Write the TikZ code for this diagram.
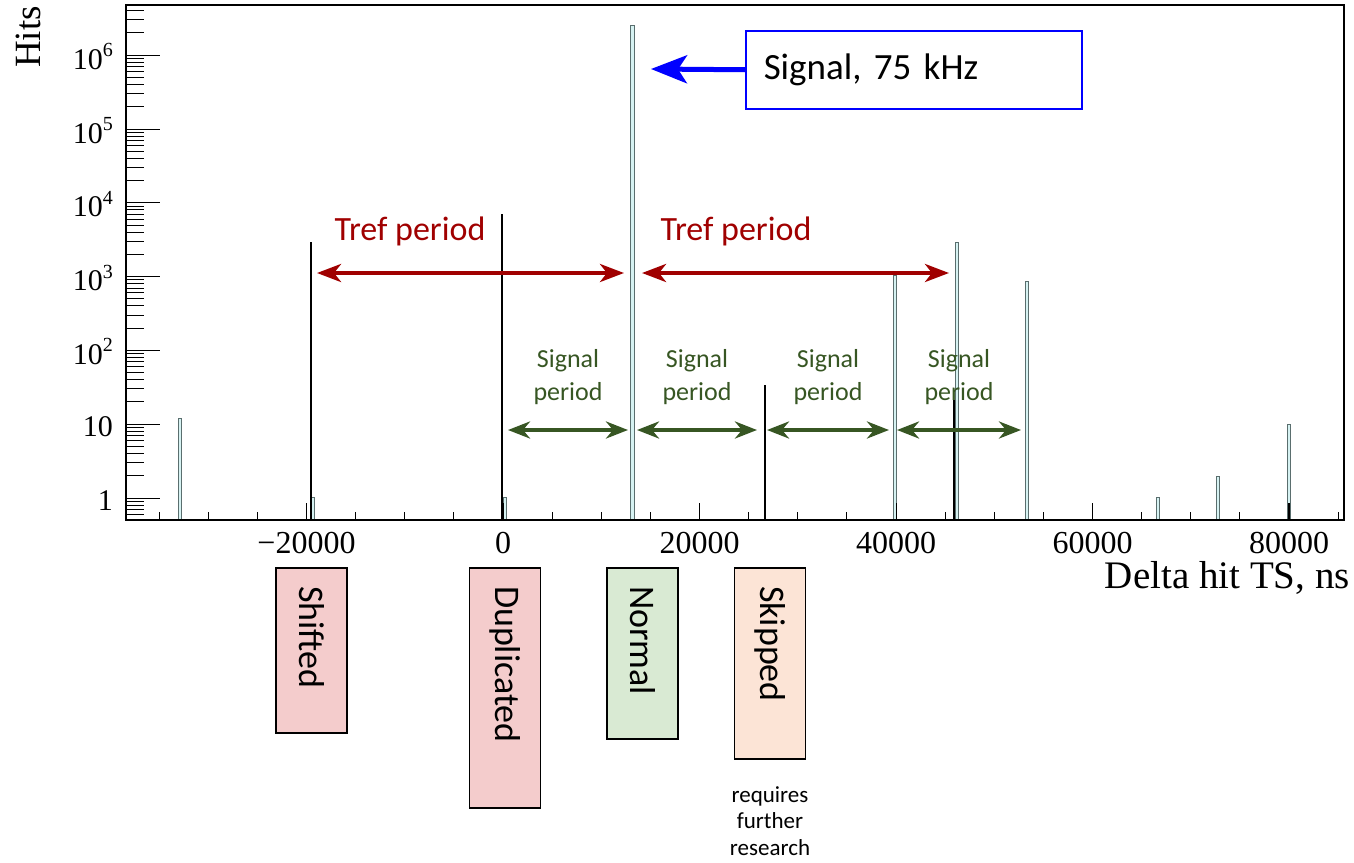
\documentclass[tikz,border=0pt]{standalone}
\usepackage{fontspec}
\setmainfont{Liberation Serif}
\newfontfamily\calibri{Carlito}
\usetikzlibrary{positioning,arrows.meta}
\definecolor{trefred}{HTML}{A00000}
\definecolor{periodgreen}{HTML}{375623}
\definecolor{sigblue}{HTML}{0000FF}
\definecolor{shiftpink}{HTML}{F4CCCC}
\definecolor{normgreen}{HTML}{D9EAD3}
\definecolor{skippeach}{HTML}{FCE4D6}
\definecolor{barline}{HTML}{5A6E6E}
\definecolor{barfill}{HTML}{D6F2F2}
\newcommand{\up}[1]{10\raisebox{0.42em}{\fontsize{20}{20}\selectfont #1}}
\tikzset{
  bar/.style={draw=barline,fill=barfill,line width=1pt},
  spike/.style={draw=black,line width=1.4pt},
  tref/.style={trefred,line width=4pt,{Stealth[length=24pt,width=18pt,inset=7pt]}-{Stealth[length=24pt,width=18pt,inset=7pt]}},
  period/.style={periodgreen,line width=4pt,{Stealth[length=22pt,width=17pt,inset=7pt]}-{Stealth[length=22pt,width=17pt,inset=7pt]}},
  tag/.style={draw=black,line width=1.2pt,rotate=-90,inner xsep=18pt,inner ysep=0pt,minimum height=71pt,align=left,font=\calibri\fontsize{36}{40}\selectfont}
}

\begin{document}
\begin{tikzpicture}[x=1pt,y=-1pt]
\useasboundingbox (0,0) rectangle (1354,862);

% histogram
\foreach \bx/\by in {180/418,313/497,505/497,895/275,957/242,1027/281,1158/497,1218/476,1289/424}
  \draw[bar] (\bx-1.8,\by) rectangle (\bx+1.8,520);
\draw[bar] (630.5,25) rectangle (634.5,520);
\foreach \bx/\by in {311/242,502/214,765/385,954/400,1289/503}
  \draw[spike] (\bx,\by) -- (\bx,520);

% axes
\foreach \d in {-1,...,6}
  \foreach \k in {2,...,9} {
    \pgfmathsetmacro\ty{498-73.8*(\d+log10(\k))}
    \ifdim\ty pt<519pt \ifdim\ty pt>6pt
      \draw[line width=1pt] (126,\ty) -- (144,\ty);
    \fi\fi
  }
\foreach \d/\lab/\dy in {0/1/12,1/10/12,2/\up{2}/14,3/\up{3}/14,4/\up{4}/14,5/\up{5}/14,6/\up{6}/14} {
  \draw[line width=1pt] (126,498-73.8*\d) -- (160,498-73.8*\d);
  \node (ylab\d) [anchor=base east,inner sep=0pt,font=\fontsize{30}{30}\selectfont] at (113,498-73.8*\d+\dy) {\lab};
}
\foreach \v in {-35,-30,...,85}
  \draw[line width=1pt] (503+9.825*\v,520) -- (503+9.825*\v,512);
\foreach \v/\lab in {-20/−20000,0/0,20/20000,40/40000,60/60000,80/80000} {
  \draw[line width=1pt] (503+9.825*\v,520) -- (503+9.825*\v,503);
  \node (xlab\v) [anchor=base,inner sep=0pt,font=\fontsize{32}{32}\selectfont] at (503+9.825*\v,553) {\lab};
}
\draw[line width=2.2pt] (126,5) rectangle (1344,520);
\node (hits) [rotate=90,anchor=base west,inner sep=0pt,font=\fontsize{37}{37}\selectfont] at (40,68) {Hits};
\node (xtitle) [anchor=base east,inner sep=0pt,font=\fontsize{39}{39}\selectfont] at (1350,588) {Delta hit TS, ns};

% annotations
\node (sigbox) [draw=sigblue,line width=1.5pt,anchor=north west,text width=300pt,inner xsep=18pt,minimum height=78pt,align=left,font=\calibri\fontsize{37}{40}\selectfont] at (745,30) {Signal, 75 kHz};
\coordinate (sigtip) at (651,69);
\draw[sigblue,line width=5pt,-{Stealth[length=36pt,width=28pt,inset=9pt]}] (sigbox.west) -- (sigtip);

\coordinate (trefA) at (317,273);
\coordinate (trefB) at (624,273);
\coordinate (trefC) at (642,273);
\coordinate (trefD) at (949,273);
\draw[tref] (trefA) -- (trefB);
\draw[tref] (trefC) -- (trefD);
\node (treflab1) [text=trefred,font=\calibri\fontsize{34}{34}\selectfont] at (410,231) {Tref period};
\node (treflab2) [text=trefred,font=\calibri\fontsize{34}{34}\selectfont] at (736,231) {Tref period};

\foreach \i/\xa/\xb in {1/508/628,2/637/757,3/767/889,4/897/1021} {
  \coordinate (perA\i) at (\xa,430);
  \coordinate (perB\i) at (\xb,430);
  \draw[period] (perA\i) -- (perB\i);
  \node (perlab\i) [text=periodgreen,align=center,font=\calibri\fontsize{26}{33}\selectfont] at ({(\xa+\xb)/2},377) {Signal\\period};
}

% categories
\node (shifted) [tag,fill=shiftpink,text width=129pt] at (311.5,650.5) {Shifted};
\node (duplicated) [tag,fill=shiftpink,text width=204pt] at (505,688) {Duplicated};
\node (normal) [tag,fill=normgreen,text width=135pt] at (642.5,653.5) {Normal};
\node (skipped) [tag,fill=skippeach,text width=155pt] at (770,663.5) {Skipped};
\node (note) [align=center,font=\calibri\fontsize{23}{26.5}\selectfont] at (770,821) {requires\\further\\research};
\end{tikzpicture}
\end{document}
